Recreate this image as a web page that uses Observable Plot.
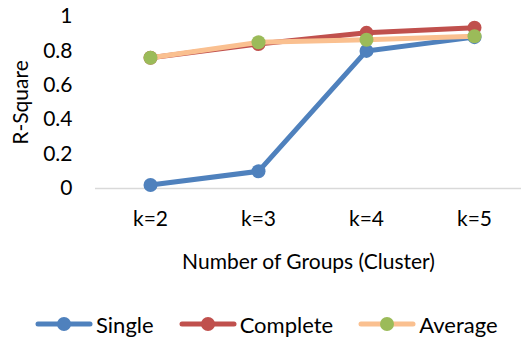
<!DOCTYPE html>
<html>
<head>
<meta charset="utf-8">
<script src="https://cdn.jsdelivr.net/npm/d3@7"></script>
<script src="https://cdn.jsdelivr.net/npm/@observablehq/plot@0.6"></script>
<style>
  body { margin: 0; background: #fff; font-family: Lato, sans-serif; }
  #legend { display: flex; justify-content: flex-start; gap: 25px; font-size: 22px; color: #000; margin-top: 24px; padding-left: 35px; height: 26px; }
  .item { display: flex; align-items: center; gap: 3px; }
</style>
</head>
<body>
<div id="chart"></div>
<div id="legend"></div>
<script>
const categories = ["k=2", "k=3", "k=4", "k=5"];
const single = [0.02, 0.10, 0.80, 0.88];
const complete = [0.76, 0.84, 0.905, 0.935];
const average = [0.76, 0.85, 0.865, 0.885];
const seriesNames = ["Single", "Complete", "Average"];
const lineColors = ["#4F81BD", "#C0504D", "#FAC090"];
const markerColors = ["#4F81BD", "#C0504D", "#9BBB59"];
const yTicks = [0, 0.2, 0.4, 0.6, 0.8, 1];

const seriesValues = [single, complete, average];
const marks = [Plot.ruleY([0], {stroke: "#D9D9D9", strokeWidth: 1.5})];
seriesValues.forEach((vals, i) => {
  const data = categories.map((c, j) => ({k: c, v: vals[j]}));
  marks.push(Plot.line(data, {x: "k", y: "v", stroke: lineColors[i], strokeWidth: 5, strokeLinejoin: "round", strokeLinecap: "round"}));
  marks.push(Plot.dot(data, {x: "k", y: "v", r: 7, fill: markerColors[i], stroke: "none"}));
});

const chart = Plot.plot({
  width: 521,
  height: 287,
  marginLeft: 95,
  marginRight: 0,
  marginTop: 16,
  marginBottom: 99,
  style: {fontFamily: "Lato, sans-serif", fontSize: "21px", color: "#000", background: "#fff"},
  x: {type: "point", domain: categories, range: [149, 475], padding: 0},
  y: {domain: [0, 1], ticks: yTicks},
  marks: [
    Plot.axisY({ticks: yTicks, tickFormat: d3.format(".1~f"), tickSize: 0, tickPadding: 23, fontSize: 21, label: "R-Square", labelArrow: "none", labelAnchor: "center", labelOffset: 82}),
    Plot.axisX({tickSize: 0, tickPadding: 23, fontSize: 21, label: "Number of Groups (Cluster)", labelArrow: "none", labelAnchor: "center", labelOffset: 80}),
    ...marks
  ]
});
document.getElementById("chart").appendChild(chart);

const legend = document.getElementById("legend");
seriesNames.forEach((name, i) => {
  const item = document.createElement("div");
  item.className = "item";
  item.innerHTML = `<svg width="58" height="16"><line x1="3" y1="8" x2="55" y2="8" stroke="${lineColors[i]}" stroke-width="5" stroke-linecap="round"/><circle cx="29" cy="8" r="7" fill="${markerColors[i]}"/></svg><span>${name}</span>`;
  legend.appendChild(item);
});
</script>
</body>
</html>
